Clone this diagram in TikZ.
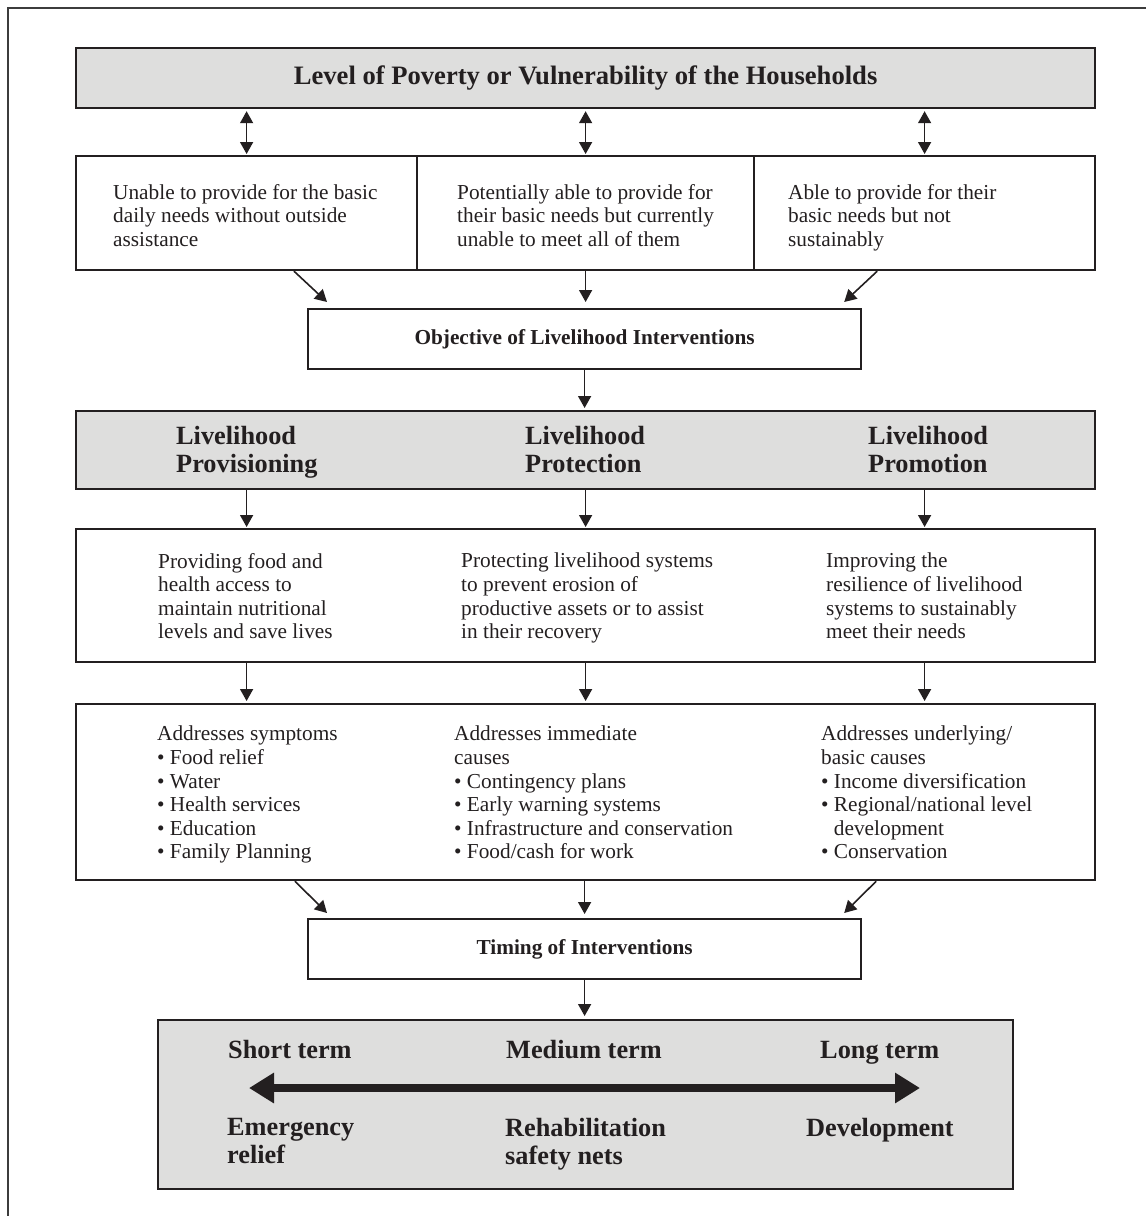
\documentclass[tikz,border=0pt]{standalone}
\usepackage{fontspec}
\setmainfont{Liberation Serif}
\usetikzlibrary{arrows.meta,calc}
\definecolor{lc}{RGB}{35,31,32}
\definecolor{gfill}{RGB}{222,222,221}
\definecolor{framec}{RGB}{60,60,60}
\tikzset{
  box/.style={draw=lc, line width=2.2pt, inner sep=0pt, anchor=north west},
  gbox/.style={box, fill=gfill},
  txt/.style={anchor=west, align=left, inner sep=0pt, text=lc, font=\fontsize{21.3}{23.6}\selectfont, execute at begin node=\strut, execute at end node=\strut},
  btxt/.style={anchor=west, align=left, inner sep=0pt, text=lc, font=\fontsize{26.3}{28}\selectfont\bfseries, execute at begin node=\strut, execute at end node=\strut},
  arr/.style={draw=lc, line width=1.6pt, -{Triangle[length=12pt,width=13pt]}},
  darr/.style={draw=lc, line width=1.6pt, {Triangle[length=12pt,width=13pt]}-{Triangle[length=12pt,width=13pt]}},
  bigarr/.style={draw=lc, line width=8pt, {Triangle[length=25pt,width=29pt]}-{Triangle[length=25pt,width=29pt]}},
}
\begin{document}
\begin{tikzpicture}[x=1pt,y=-1pt]
\useasboundingbox (0,0) rectangle (1146,1216);
% outer frame (cropped)
\draw[framec, line width=2pt] (8,1220) |- (1150,8);

% title
\node[gbox, minimum width=1019pt, minimum height=60pt, font=\fontsize{26.6}{28}\selectfont\bfseries, text=lc] (title) at (75,47) {\raisebox{-2pt}{Level of Poverty or Vulnerability of the Households}};

% row 2
\node[box, minimum width=341pt, minimum height=114pt] (r2a) at (75,155) {};
\node[box, minimum width=337pt, minimum height=114pt] (r2b) at (416,155) {};
\node[box, minimum width=341pt, minimum height=114pt] (r2c) at (753,155) {};
\node[txt] (t2a) at (113,219) {Unable to provide for the basic\\daily needs without outside\\assistance};
\node[txt] (t2b) at (457,219) {Potentially able to provide for\\their basic needs but currently\\unable to meet all of them};
\node[txt] (t2c) at (788,219) {Able to provide for their\\basic needs but not\\sustainably};

% objective
\node[box, minimum width=553pt, minimum height=60pt, font=\fontsize{21.3}{23}\selectfont\bfseries, text=lc] (obj) at (307,308) {Objective of Livelihood Interventions};

% livelihood
\node[gbox, minimum width=1019pt, minimum height=78pt] (liv) at (75,410) {};
\node[btxt] (l1) at (176,453.5) {Livelihood\\Provisioning};
\node[btxt] (l2) at (525,453.5) {Livelihood\\Protection};
\node[btxt] (l3) at (868,453.5) {Livelihood\\Promotion};

% box 3
\node[box, minimum width=1019pt, minimum height=133pt] (b3) at (75,528) {};
\node[txt] (t3a) at (158,599.5) {Providing food and\\health access to\\maintain nutritional\\levels and save lives};
\node[txt] (t3b) at (461,599.5) {Protecting livelihood systems\\to prevent erosion of\\productive assets or to assist\\in their recovery};
\node[txt] (t3c) at (826,599.5) {Improving the\\resilience of livelihood\\systems to sustainably\\meet their needs};

% box 4
\node[box, minimum width=1019pt, minimum height=176pt] (b4) at (75,703) {};
\node[txt] (t4a) at (157,796) {Addresses symptoms\\\textbullet\ Food relief\\\textbullet\ Water\\\textbullet\ Health services\\\textbullet\ Education\\\textbullet\ Family Planning};
\node[txt] (t4b) at (454,796) {Addresses immediate\\causes\\\textbullet\ Contingency plans\\\textbullet\ Early warning systems\\\textbullet\ Infrastructure and conservation\\\textbullet\ Food/cash for work};
\node[txt] (t4c) at (821,796) {Addresses underlying/\\basic causes\\\textbullet\ Income diversification\\\textbullet\ Regional/national level\\\hphantom{\textbullet\ }development\\\textbullet\ Conservation};

% timing
\node[box, minimum width=553pt, minimum height=60pt, font=\fontsize{21.3}{23}\selectfont\bfseries, text=lc] (timing) at (307,918) {Timing of Interventions};

% bottom box
\node[gbox, minimum width=855pt, minimum height=169pt] (tbox) at (157,1019) {};
\node[btxt] (s1) at (228,1053) {Short term};
\node[btxt] (s2) at (506,1053) {Medium term};
\node[btxt] (s3) at (820,1053) {Long term};
\node[btxt] (e1) at (227,1145.5) {Emergency\\relief};
\node[btxt] (e2) at (505,1145.5) {Rehabilitation\\safety nets};
\node[btxt] (e3) at (806,1130.5) {Development};
\coordinate (stl) at (249,1088);
\coordinate (ltr) at (920,1088);
\draw[bigarr] (stl) -- (ltr);

% connectors
\draw[darr, shorten <=2pt, shorten >=1pt] (title.south -| r2a.north) -- (r2a.north);
\draw[darr, shorten <=2pt, shorten >=1pt] (title.south -| r2b.north) -- (r2b.north);
\draw[darr, shorten <=2pt, shorten >=1pt] (title.south -| r2c.north) -- (r2c.north);

\draw[arr] ($(r2a.south west)+(219,0)$) -- ($(obj.north west)+(20,-6)$);
\draw[arr, shorten >=6pt] (r2b.south) -- (obj.north -| r2b.south);
\draw[arr] ($(r2c.south east)+(-219,0)$) -- ($(obj.north east)+(-18,-6)$);

\draw[arr, shorten >=2pt] (obj.south) -- (obj.south |- liv.north);

\draw[arr, shorten >=1pt] (liv.south -| r2a.south) -- (b3.north -| r2a.south);
\draw[arr, shorten >=1pt] (liv.south -| r2b.south) -- (b3.north -| r2b.south);
\draw[arr, shorten >=1pt] (liv.south -| r2c.south) -- (b3.north -| r2c.south);

\draw[arr, shorten >=2pt] (b3.south -| r2a.south) -- (b4.north -| r2a.south);
\draw[arr, shorten >=2pt] (b3.south -| r2b.south) -- (b4.north -| r2b.south);
\draw[arr, shorten >=2pt] (b3.south -| r2c.south) -- (b4.north -| r2c.south);

\draw[arr] ($(b4.south west)+(220,0)$) -- ($(timing.north west)+(20,-5)$);
\draw[arr, shorten >=4pt] (b4.south -| timing.north) -- (timing.north);
\draw[arr] ($(b4.south east)+(-220,0)$) -- ($(timing.north east)+(-18,-5)$);

\draw[arr, shorten >=3pt] (timing.south) -- (timing.south |- tbox.north);
\end{tikzpicture}
\end{document}
